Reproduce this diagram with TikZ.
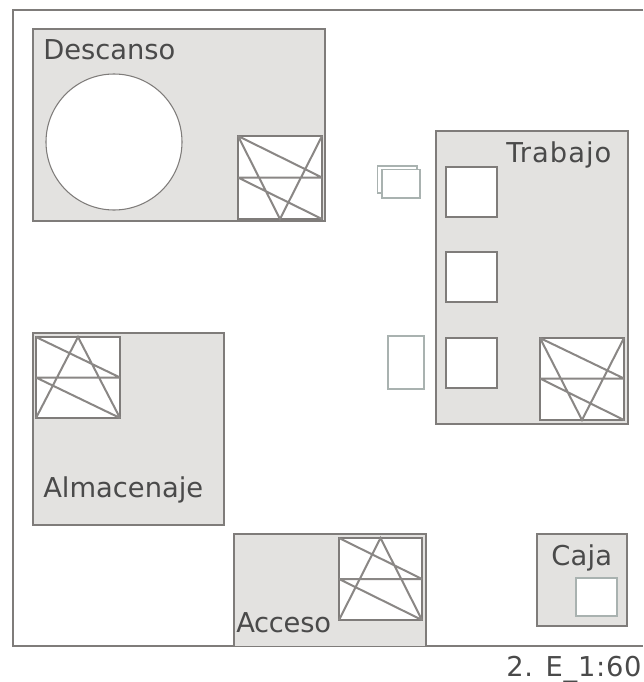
\documentclass[tikz,border=0pt]{standalone}
\usepackage{fontspec}
\setmainfont{DejaVu Sans}
\definecolor{roomfill}{HTML}{E3E2E0}
\definecolor{roomline}{HTML}{7F7C7A}
\definecolor{hatchline}{HTML}{8A8785}
\definecolor{paleline}{HTML}{A9B2B0}
\definecolor{labeltext}{HTML}{4A4A4A}
\tikzset{
  room/.style={draw=roomline,fill=roomfill,line width=1pt},
  cell/.style={draw=roomline,fill=white,line width=1.1pt},
  hatch/.style={draw=hatchline,line width=1.5pt},
  pale/.style={draw=paleline,fill=white,line width=0.8pt},
  lab/.style={text=labeltext,font=\fontsize{20.5}{24}\selectfont,inner sep=0pt,anchor=base west},
}
% #1 left, #2 top, #3 right, #4 mid, #5 bottom, #6 centre x
\newcommand{\hatchdown}[6]{%
  \draw[cell] (#1,#2) rectangle (#3,#5);
  \draw[hatch] (#1,#4) -- (#3,#4) (#1,#2) -- (#3,#4) (#1,#4) -- (#3,#5)
     (#1,#2) -- (#6,#5) -- (#3,#2);}
\newcommand{\hatchup}[6]{%
  \draw[cell] (#1,#2) rectangle (#3,#5);
  \draw[hatch] (#1,#4) -- (#3,#4) (#1,#2) -- (#3,#4) (#1,#4) -- (#3,#5)
     (#1,#5) -- (#6,#2) -- (#3,#5);}
\begin{document}
\begin{tikzpicture}[x=0.75pt,y=-0.75pt]
\useasboundingbox (0,0) rectangle (643,682);
\fill[white] (0,0) rectangle (643,682);
% frame
\draw[roomline,line width=1pt] (643,10) -- (13,10) -- (13,646) -- (643,646);
% rooms
\draw[room] (33,29) rectangle (325,221);
\draw[room] (436,131) rectangle (628,424);
\draw[room] (33,333) rectangle (224,525);
\fill[roomfill] (234.5,534.5) rectangle (425.5,645.5);
\draw[room,fill=none] (234,646) -- (234,534) -- (426,534) -- (426,646);
\draw[room] (537,534) rectangle (627,626);
% circle
\draw[cell,line width=0.8pt] (114,142) circle (68);
% hatched squares
\hatchdown{238}{136}{322}{177.5}{219}{280}
\hatchdown{540}{338}{624}{378.5}{420}{582}
\hatchup{36}{337}{120}{377.5}{418}{78}
\hatchup{339}{538}{422}{579}{620}{380.5}
% plain squares
\draw[cell] (446,167) rectangle (497,217);
\draw[cell] (446,252) rectangle (497,302);
\draw[cell] (446,338) rectangle (497,388);
\draw[pale] (576,578) rectangle (617,616);
% loose pieces
\draw[pale] (377.5,166) rectangle (417,193);
\draw[pale] (382,169.5) rectangle (420,198);
\draw[pale] (388,336) rectangle (424,389);
% labels
\node[lab] (descanso) at (43,59.5) {Descanso};
\node[lab] (trabajo) at (506,162) {\addfontfeature{LetterSpace=3.7}Trabajo};
\node[lab] (almacenaje) at (43,497) {Almacenaje};
\node[lab] (acceso) at (236,632) {\addfontfeature{LetterSpace=-1}Acceso};
\node[lab] (caja) at (551,565) {\addfontfeature{LetterSpace=1}Caja};
\node[lab] (escala) at (506,676) {\addfontfeature{LetterSpace=2.7}2. E\_1:60};
\end{tikzpicture}
\end{document}
